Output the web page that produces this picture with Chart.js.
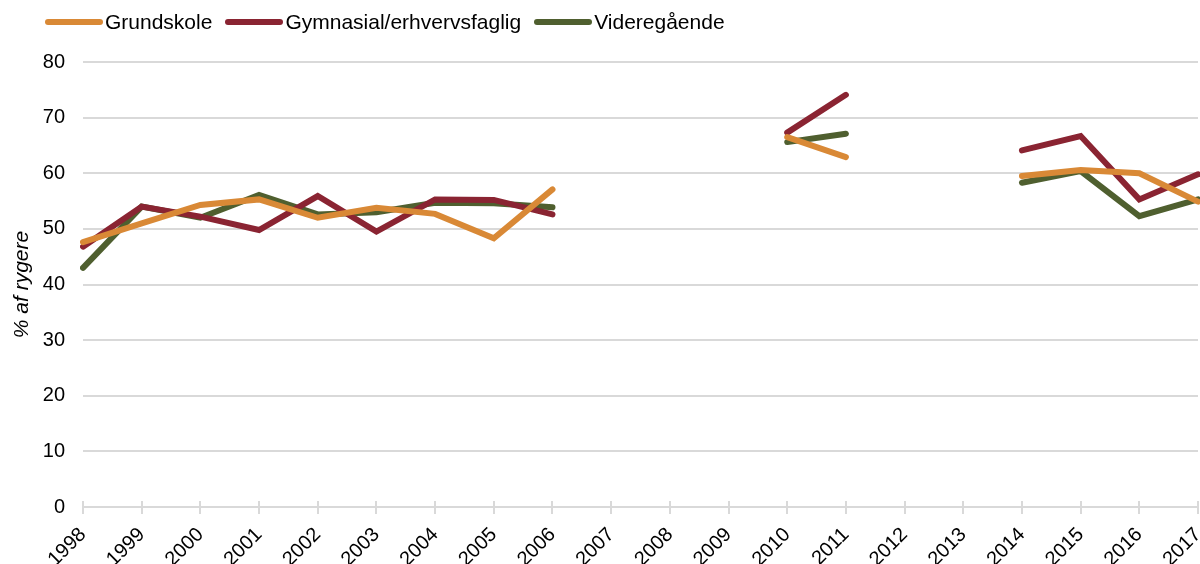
<!DOCTYPE html>
<html lang="da">
<head>
  <meta charset="UTF-8">
  <title>Rygere efter uddannelse</title>
  <script src="https://cdn.jsdelivr.net/npm/chart.js"></script>
  <style>
    body { margin: 0; background: #fff; }
    #wrap { position: relative; width: 1200px; height: 564px; }
    #legend {
      position: absolute; left: 45px; top: 10px;
      font-family: "Liberation Sans", Arial, sans-serif; font-size: 21px; color: #000;
      display: flex; align-items: center;
    }
    #legend span.item { display: flex; align-items: center; margin-right: 13px; }
    #legend span.sw { display: inline-block; width: 58px; height: 6px; border-radius: 3px; margin-right: 2px; }
  </style>
</head>
<body>
<div id="wrap">
  <canvas id="chart" width="1200" height="564"></canvas>
  <div id="legend"></div>
</div>
<script>
  // årstal på x-aksen
  const years = ['1998','1999','2000','2001','2002','2003','2004','2005','2006','2007',
                 '2008','2009','2010','2011','2012','2013','2014','2015','2016','2017'];

  // % af rygere (null = ingen data)
  const grundskole = [47.6, 51.0, 54.3, 55.3, 52.0, 53.8, 52.7, 48.3, 57.1, null,
                      null, null, 66.5, 62.9, null, null, 59.5, 60.6, 60.0, 54.9];
  const gymnasial  = [46.8, 54.0, 52.2, 49.8, 55.9, 49.5, 55.3, 55.2, 52.6, null,
                      null, null, 67.3, 74.1, null, null, 64.1, 66.7, 55.3, 59.8];
  const videregaaende = [43.0, 54.0, 52.0, 56.1, 52.6, 53.0, 54.7, 54.6, 53.9, null,
                      null, null, 65.6, 67.1, null, null, 58.3, 60.4, 52.3, 55.3];

  const yTicks = [0, 10, 20, 30, 40, 50, 60, 70, 80];

  const series = [
    { label: 'Grundskole', data: grundskole, color: '#D98936' },
    { label: 'Gymnasial/erhvervsfaglig', data: gymnasial, color: '#8A2432' },
    { label: 'Videregående', data: videregaaende, color: '#4F5F2F' }
  ];

  const font = "'Liberation Sans', Arial, sans-serif";

  // små streger over x-aksen ved hvert årstal (Excel-stil "cross" ticks)
  const innerTicks = {
    id: 'innerTicks',
    afterDraw(chart) {
      const x = chart.scales.x, c = chart.ctx, y0 = x.top;
      c.save();
      c.strokeStyle = '#d9d9d9';
      c.lineWidth = 2;
      years.forEach((_, i) => {
        const px = Math.round(x.getPixelForTick(i));
        c.beginPath(); c.moveTo(px, y0); c.lineTo(px, y0 - 6); c.stroke();
      });
      c.restore();
    }
  };

  const ctx = document.getElementById('chart').getContext('2d');
  const chart = new Chart(ctx, {
    type: 'line',
    data: {
      labels: years,
      datasets: series.map(s => ({
        label: s.label,
        data: s.data,
        borderColor: s.color,
        backgroundColor: s.color,
        borderWidth: 6,
        pointRadius: 0,
        borderCapStyle: 'round',
        borderJoinStyle: 'miter',
        tension: 0,
        spanGaps: false,
        fill: false
      }))
    },
    options: {
      responsive: false,
      animation: false,
      layout: { padding: { top: 62, right: 2, left: 0, bottom: 0 } },
      plugins: {
        legend: { display: false },
        tooltip: { enabled: false }
      },
      scales: {
        x: {
          offset: false,
          afterFit: scale => { scale.height = 57; scale.paddingRight = 0; },
          grid: { drawOnChartArea: false, drawTicks: true, tickLength: 7, color: '#d9d9d9', lineWidth: 2 },
          border: { color: '#d9d9d9', width: 2 },
          ticks: {
            color: '#000', font: { family: font, size: 20 },
            minRotation: 45, maxRotation: 45, autoSkip: false, padding: 9
          }
        },
        y: {
          min: 0, max: 80,
          afterFit: scale => { scale.width = 83; },
          afterBuildTicks: scale => { scale.ticks = yTicks.map(v => ({ value: v })); },
          grid: { color: '#d9d9d9', lineWidth: 2, drawTicks: false },
          border: { display: false },
          ticks: { color: '#000', font: { family: font, size: 20 }, padding: 18 },
          title: {
            display: true, text: '% af rygere', color: '#000',
            font: { family: font, size: 21, style: 'italic' }, padding: { top: 10, bottom: 0 }
          }
        }
      }
    },
    plugins: [innerTicks]
  });

  // legende
  const legend = document.getElementById('legend');
  series.forEach(s => {
    const item = document.createElement('span');
    item.className = 'item';
    item.innerHTML = '<span class="sw" style="background:' + s.color + '"></span>' + s.label;
    legend.appendChild(item);
  });
</script>
</body>
</html>
